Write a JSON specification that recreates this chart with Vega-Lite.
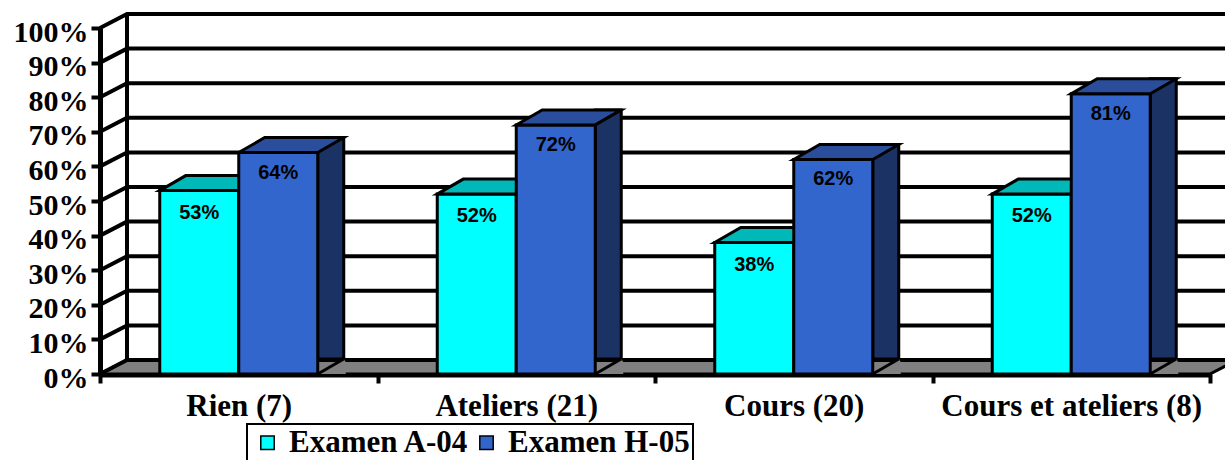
{
  "$schema": "https://vega.github.io/schema/vega-lite/v6.json",
  "autosize": {"type": "none"},
  "width": 1110,
  "height": 346,
  "padding": {"left": 100, "top": 28, "right": 15, "bottom": 86},
  "background": "white",
  "data": {
    "values": [
      {"category": "Rien (7)", "exam": "Examen A-04", "value": 0.53},
      {"category": "Rien (7)", "exam": "Examen H-05", "value": 0.64},
      {"category": "Ateliers (21)", "exam": "Examen A-04", "value": 0.52},
      {"category": "Ateliers (21)", "exam": "Examen H-05", "value": 0.72},
      {"category": "Cours (20)", "exam": "Examen A-04", "value": 0.38},
      {"category": "Cours (20)", "exam": "Examen H-05", "value": 0.62},
      {"category": "Cours et ateliers (8)", "exam": "Examen A-04", "value": 0.52},
      {"category": "Cours et ateliers (8)", "exam": "Examen H-05", "value": 0.81}
    ]
  },
  "encoding": {
    "x": {
      "field": "category", "type": "nominal", "title": null,
      "sort": ["Rien (7)", "Ateliers (21)", "Cours (20)", "Cours et ateliers (8)"],
      "scale": {"paddingInner": 0, "paddingOuter": 0}
    },
    "y": {
      "field": "value", "type": "quantitative", "title": null,
      "scale": {"domain": [0, 1], "nice": false},
      "axis": {"values": [0, 0.1, 0.2, 0.3, 0.4, 0.5, 0.6, 0.7, 0.8, 0.9, 1], "format": ".0%"}
    }
  },
  "layer": [
    {
      "data": {"values": [{"value": 0}]},
      "mark": {"type": "point", "shape": "M0,0L1110,0L1137,-14L27,-14Z", "size": 4, "filled": true, "fill": "#808080", "stroke": "black", "strokeWidth": 3, "opacity": 1},
      "encoding": {"x": {"value": 0}}
    },
    {
      "data": {"values": [{"value": 0}, {"value": 0.1}, {"value": 0.2}, {"value": 0.3}, {"value": 0.4}, {"value": 0.5}, {"value": 0.6}, {"value": 0.7}, {"value": 0.8}, {"value": 0.9}, {"value": 1}]},
      "mark": {"type": "point", "shape": "M0,0L27,-14L1145,-14", "size": 4, "filled": false, "stroke": "black", "strokeWidth": 4, "opacity": 1},
      "encoding": {"x": {"value": 0}}
    },
    {
      "data": {"values": [{"value": 0}]},
      "mark": {"type": "rule", "xOffset": 27, "yOffset": -14, "y2Offset": -14, "strokeWidth": 4, "color": "black"},
      "encoding": {"x": {"value": 0}, "y2": {"datum": 1}}
    },
    {
      "transform": [{"filter": "datum.exam == 'Examen A-04'"}],
      "mark": {"type": "bar", "width": 79, "xOffset": -39.5, "stroke": "black", "strokeWidth": 3, "opacity": 1},
      "encoding": {
        "color": {
          "field": "exam", "type": "nominal", "title": null,
          "scale": {"domain": ["Examen A-04", "Examen H-05"], "range": ["#00ffff", "#3366cc"]},
          "legend": {
            "orient": "none", "legendX": 147, "legendY": 396, "direction": "horizontal",
            "strokeColor": "black", "fillColor": "white", "padding": 3,
            "symbolType": "square", "symbolSize": 180, "symbolStrokeColor": "black", "symbolStrokeWidth": 1.5,
            "symbolOffset": 2, "labelOffset": 6, "columnPadding": -12, "labelLimit": 0,
            "labelFont": "Liberation Serif", "labelFontWeight": "bold", "labelFontSize": 31, "labelColor": "black"
          }
        }
      }
    },
    {
      "transform": [{"filter": "datum.exam == 'Examen A-04'"}],
      "mark": {"type": "point", "shape": "M-79,0L0,0L26,-15L-53,-15Z", "size": 4, "filled": true, "fill": "#00b8b8", "stroke": "black", "strokeWidth": 3, "opacity": 1}
    },
    {
      "transform": [{"filter": "datum.exam == 'Examen H-05'"}],
      "mark": {"type": "bar", "width": 26, "xOffset": 92, "yOffset": -15, "y2Offset": 0, "fill": "#1b3264", "stroke": "black", "strokeWidth": 3, "opacity": 1}
    },
    {
      "transform": [{"filter": "datum.exam == 'Examen H-05'"}],
      "mark": {"type": "point", "shape": "M79,0L107,0L107,-12L105,-15Z", "size": 4, "filled": true, "fill": "#808080", "strokeWidth": 0, "opacity": 1},
      "encoding": {"y": {"datum": 0}}
    },
    {
      "transform": [{"filter": "datum.exam == 'Examen H-05'"}],
      "mark": {"type": "point", "shape": "M79,0L105,-15", "size": 4, "filled": false, "stroke": "black", "strokeWidth": 3, "opacity": 1},
      "encoding": {"y": {"datum": 0}}
    },
    {
      "transform": [{"filter": "datum.exam == 'Examen H-05'"}],
      "mark": {"type": "bar", "width": 79, "xOffset": 39.5, "stroke": "black", "strokeWidth": 3, "opacity": 1},
      "encoding": {
        "color": {"field": "exam", "type": "nominal", "title": null}
      }
    },
    {
      "transform": [{"filter": "datum.exam == 'Examen H-05'"}],
      "mark": {"type": "point", "shape": "M0,0L79,0L105,-15L26,-15Z", "size": 4, "filled": true, "fill": "#2a4e9c", "stroke": "black", "strokeWidth": 3, "opacity": 1}
    },
    {
      "transform": [{"filter": "datum.exam == 'Examen A-04'"}],
      "mark": {"type": "text", "xOffset": -39.5, "dy": 22, "baseline": "middle", "align": "center", "font": "Liberation Sans", "fontWeight": "bold", "fontSize": 20, "color": "black"},
      "encoding": {"text": {"field": "value", "type": "quantitative", "format": ".0%"}}
    },
    {
      "transform": [{"filter": "datum.exam == 'Examen H-05'"}],
      "mark": {"type": "text", "xOffset": 39.5, "dy": 20, "baseline": "middle", "align": "center", "font": "Liberation Sans", "fontWeight": "bold", "fontSize": 20, "color": "black"},
      "encoding": {"text": {"field": "value", "type": "quantitative", "format": ".0%"}}
    }
  ],
  "config": {
    "view": {"stroke": null},
    "legend": {"strokeWidth": 2},
    "axis": {"grid": false, "domainColor": "black", "tickColor": "black", "labelColor": "black", "labelFont": "Liberation Serif", "labelFontWeight": "bold", "zindex": 1},
    "axisY": {"domainWidth": 5, "tickWidth": 4, "tickSize": 9, "labelFontSize": 30, "labelPadding": 3, "labelOffset": 4},
    "axisX": {"domainWidth": 6, "tickWidth": 4, "tickSize": 9, "labelFontSize": 31, "labelPadding": 8, "tickBand": "extent", "labelAngle": 0, "labelLimit": 0}
  }
}
